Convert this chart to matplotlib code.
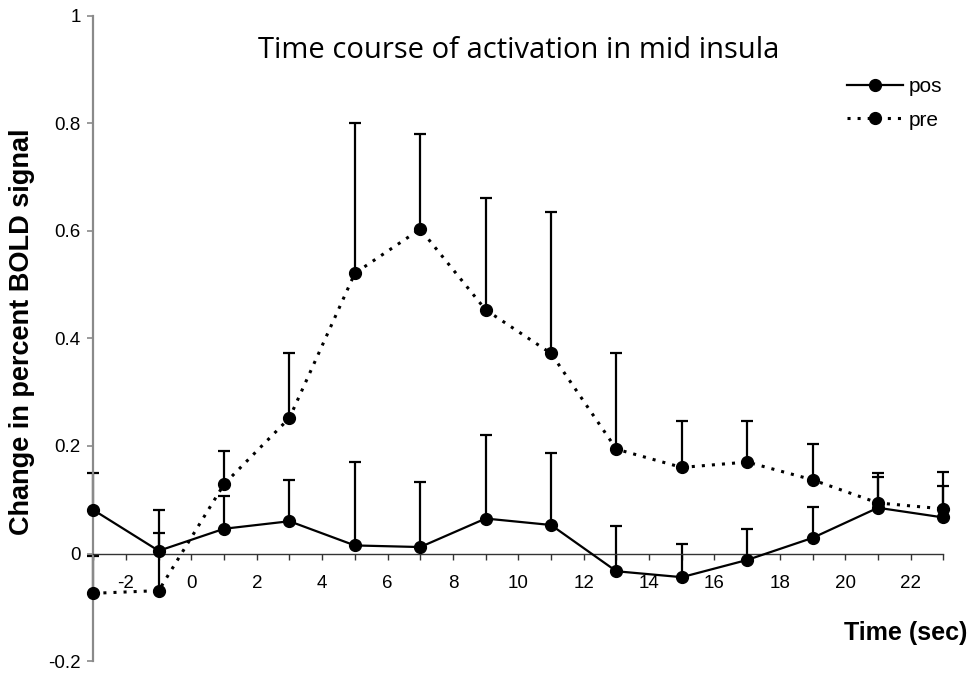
import matplotlib
matplotlib.use("Agg")
import matplotlib.pyplot as plt
from matplotlib.lines import Line2D

time_sec = [-3, -1, 1, 3, 5, 7, 9, 11, 13, 15, 17, 19, 21, 23]
pos_mean = [0.081, 0.005, 0.046, 0.060, 0.015, 0.012, 0.065, 0.053, -0.033, -0.044, -0.012, 0.029, 0.085, 0.067]
pos_err = [0.069, 0.076, 0.061, 0.077, 0.155, 0.120, 0.156, 0.134, 0.084, 0.062, 0.057, 0.058, 0.058, 0.058]
pre_mean = [-0.074, -0.069, 0.129, 0.252, 0.521, 0.603, 0.453, 0.372, 0.194, 0.160, 0.170, 0.137, 0.094, 0.083]
pre_err = [0.069, 0.108, 0.062, 0.120, 0.279, 0.176, 0.208, 0.263, 0.178, 0.087, 0.076, 0.067, 0.056, 0.069]

x_ticks = list(range(-3, 24))
x_ticklabels = [str(v) if v % 2 == 0 else "" for v in x_ticks]
y_ticks = [-0.2, 0, 0.2, 0.4, 0.6, 0.8, 1]
y_ticklabels = ["-0.2", "0", "0.2", "0.4", "0.6", "0.8", "1"]

plt.rcParams['font.family'] = ['Liberation Sans', 'DejaVu Sans']

fig = plt.figure(figsize=(9.7, 6.77), dpi=100)
ax = fig.add_axes([0.0962, 0.0235, 0.9725 - 0.0962, 0.977 - 0.0235])

dotted = (0, (1.0, 2.3))

# error bars (upper only)
ax.errorbar(time_sec, pos_mean, yerr=[[0] * len(pos_err), pos_err], fmt='none',
            ecolor='black', elinewidth=1.6, capsize=4.5, capthick=1.6, clip_on=False, zorder=2)
ax.errorbar(time_sec, pre_mean, yerr=[[0] * len(pre_err), pre_err], fmt='none',
            ecolor='black', elinewidth=1.6, capsize=4.5, capthick=1.6, clip_on=False, zorder=2)

ax.plot(time_sec, pos_mean, color='black', lw=1.6, marker='o', markersize=8.5,
        clip_on=False, zorder=3)
ax.plot(time_sec, pre_mean, color='black', lw=2.2, linestyle=dotted, marker='o',
        markersize=8.5, clip_on=False, zorder=3)

ax.set_xlim(-3, 23)
ax.set_ylim(-0.2, 1)

ax.spines['top'].set_visible(False)
ax.spines['right'].set_visible(False)
ax.spines['bottom'].set_position(('data', 0))
ax.spines['bottom'].set_color('#333333')
ax.spines['bottom'].set_linewidth(1.0)
ax.spines['left'].set_color('#8a8a8a')
ax.spines['left'].set_linewidth(1.6)

ax.set_xticks(x_ticks)
ax.set_xticklabels(x_ticklabels)
ax.set_yticks(y_ticks)
ax.set_yticklabels(y_ticklabels)
ax.tick_params(axis='x', direction='out', length=4, width=1.0, color='#333333',
               pad=11.5, labelsize=13.5)
ax.tick_params(axis='y', direction='out', length=4, width=1.2, color='#8a8a8a',
               pad=5, labelsize=13.5)

fig.text(0.535, 0.926, "Time course of activation in mid insula", ha='center', va='center',
         fontsize=21, family=['Open Sans', 'DejaVu Sans'])
fig.text(0.023, 0.51, "Change in percent BOLD signal", rotation=90, ha='center', va='center',
         fontsize=19.5, fontweight='bold')
fig.text(0.997, 0.065, "Time (sec)", ha='right', va='center', fontsize=18, fontweight='bold')

handles = [
    Line2D([0], [0], color='black', lw=1.6, marker='o', markersize=8.5),
    Line2D([0], [0], color='black', lw=2.2, linestyle=dotted, marker='o', markersize=8.5),
]
fig.legend(handles, ['pos', 'pre'], loc='upper left', bbox_to_anchor=(847 / 970, 1 - 77 / 677),
           frameon=False, fontsize=15, handlelength=2.7, handletextpad=0.25,
           borderpad=0, borderaxespad=0, labelspacing=0.7)

fig.savefig("out.png", dpi=100)
